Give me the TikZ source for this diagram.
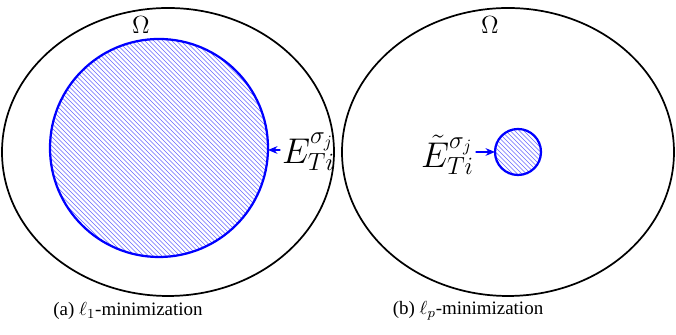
\documentclass[tikz,border=0pt]{standalone}
\usepackage{fontspec}
\setmainfont{Liberation Serif}
\usetikzlibrary{arrows.meta}

\tikzset{
  omegaset/.style={line width=1pt},
  region/.style={draw=blue,line width=1.3pt},
  hatch/.style={draw=blue!60,line width=0.3pt},
  pointer/.style={draw=blue,line width=0.7pt,-{Stealth[length=5.5pt,width=4.5pt]}},
  setlabel/.style={inner sep=1pt,font=\fontsize{20.5}{22}\selectfont}
}

\begin{document}
\begin{tikzpicture}[x=0.58pt,y=0.58pt,line cap=round,line join=round]
  \useasboundingbox (0,0) rectangle (676,335);
  % (a) left panel
  \draw[omegaset] (168,183) ellipse [x radius=166,y radius=144];
  \begin{scope}
    \clip (159,187) circle [radius=109];
    \foreach \s in {-190,-185.5,...,275}
      \draw[hatch] (\s,305) -- ({\s+240},65);
  \end{scope}
  \draw[region] (159,187) circle [radius=109];
  \coordinate (aedge) at (268,185);
  \node (omegaa) at (141,310) {\Large$\Omega$};
  \node[setlabel,right=0pt] (seta) at (280,183) {$E^{\sigma_j}_{Ti}$};
  \draw[pointer] (seta.west |- aedge) -- (aedge);
  \node (capa) at (128,24) {\fontsize{11}{13}\selectfont(a) $\ell_1$-minimization};
  % (b) right panel
  \draw[omegaset] (508,183) ellipse [x radius=166,y radius=144];
  \begin{scope}
    \clip (518,183) circle [radius=23];
    \foreach \s in {450,454.5,...,545}
      \draw[hatch] (\s,215) -- ({\s+70},145);
  \end{scope}
  \draw[region] (518,183) circle [radius=23];
  \coordinate (bedge) at (495,183);
  \node (omegab) at (490,310) {\Large$\Omega$};
  \node[setlabel,left=0pt] (setb) at (476,180) {$\tilde{E}^{\sigma_j}_{Ti}$};
  \draw[pointer] (setb.east |- bedge) -- (bedge);
  \node (capb) at (468,24) {\fontsize{11}{13}\selectfont(b) $\ell_p$-minimization};
\end{tikzpicture}
\end{document}
